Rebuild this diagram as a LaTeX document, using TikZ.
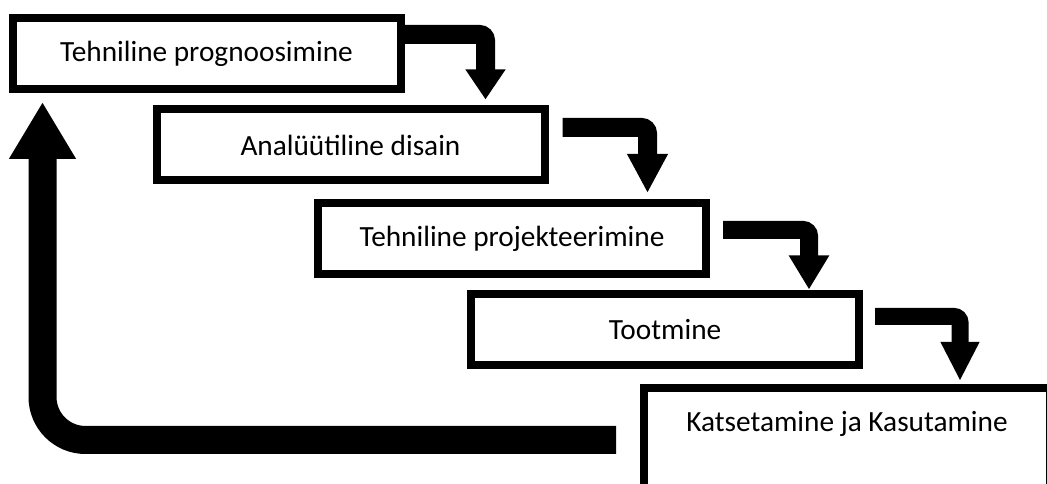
\documentclass[tikz,border=0pt]{standalone}
\usepackage{fontspec}
\setmainfont{Carlito}
\usepackage{tikz}
\usetikzlibrary{arrows.meta,calc}

\begin{document}
\begin{tikzpicture}[x=1pt,y=1pt,
	stage/.style={draw, line width=8pt, inner sep=0pt, minimum width=388pt, minimum height=71pt, font=\fontsize{29.3}{35}\selectfont},
	flow/.style={line width=19pt, rounded corners=6pt, -{Triangle[width=38pt,length=36pt]}}]
	\path[use as bounding box, clip] (0,0) rectangle (1047,484);
	\node[stage] (b1) at (206.5,430.5) {Tehniline prognoosimine};
	\node[stage] (b2) at (350.5,339) {Analüütiline disain};
	\node[stage] (b3) at (512,245.5) {Tehniline projekteerimine};
	\node[stage] (b4) at (665,154) {Tootmine};
	\node[stage, anchor=north west, minimum width=406pt, text height=43.4pt, text depth=82.6pt] (b5) at (640,100) {Katsetamine ja Kasutamine};
	% steps down
	\draw[flow, -{Triangle[width=38pt,length=30pt]}] ([yshift=19pt]b1.east) -| ([xshift=-63pt,yshift=6pt]b2.north east);
	\draw[flow, -{Triangle[width=38pt,length=39pt]}] ([xshift=14pt,yshift=17.5pt]b2.east) -| ([xshift=-62.5pt,yshift=6pt]b3.north east);
	\draw[flow, line width=18pt, -{Triangle[width=38pt,length=34pt]}] ([xshift=13pt,yshift=8.5pt]b3.east) -| ([xshift=-54pt,yshift=1pt]b4.north east);
	\draw[flow, line width=17pt, -{Triangle[width=36pt,length=39pt]}] ([xshift=12pt,yshift=13.5pt]b4.east) -| ([xshift=320pt,yshift=3pt]b5.north west);
	% back to the start
	\draw[line width=28pt, rounded corners=43pt, -{Triangle[width=63pt,length=57pt]}] ([xshift=-24pt,yshift=-56pt]b5.north west) -| ([xshift=34pt,yshift=-9pt]b1.south west);
\end{tikzpicture}
\end{document}
